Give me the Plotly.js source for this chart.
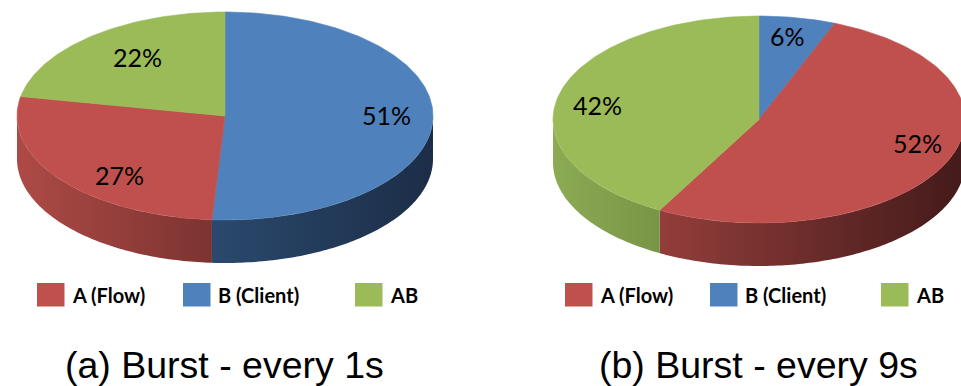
<!DOCTYPE html>
<html>
<head>
<meta charset="utf-8">
<script src="https://cdn.plot.ly/plotly-3.0.1.min.js"></script>
<style>
  html, body { margin: 0; padding: 0; background: #ffffff; }
  #chart { width: 961px; height: 386px; }
</style>
</head>
<body>
<div id="chart"></div>
<script>
// Share of bursts handled by each path, for two burst intervals (percent)
const categories = ['A (Flow)', 'B (Client)', 'AB'];
const burstEvery1s = [27, 51, 22];
const burstEvery9s = [52, 6, 42];
const captions = ['(a) Burst - every 1s', '(b) Burst - every 9s'];

// Styling per category (A, B, AB)
const topColors = ['#C0504D', '#4F81BD', '#9BBB59'];
const sideLight = ['#AE4A46', '#37628F', '#8CAB54'];
const sideDark  = ['#431A1A', '#1C2D47', '#40541F'];
// slices are laid out clockwise from 12 o'clock in this order
const sliceOrder = [1, 0, 2];

// Geometry of each tilted pie (drawing units = pixels of the page)
const pies = [
  { values: burstEvery1s, caption: captions[0], cx: 225, cy: 116, rx: 208, ry: 104, depth: 43,
    nudge: [[13, 13], [12, -3], [8, -1]],
    legendBox: [37, 183, 355], legendY: 283 },
  { values: burstEvery9s, caption: captions[1], cx: 759, cy: 119.5, rx: 206, ry: 103.5, depth: 43,
    nudge: [[24, -8], [1, -10], [-18, 4]],
    legendBox: [565, 710, 881], legendY: 283 }
];

const LABEL_R = 0.72;

function pt(p, deg, dy) {
  const t = deg * Math.PI / 180;
  return [p.cx + p.rx * Math.sin(t), p.cy - p.ry * Math.cos(t) + (dy || 0)];
}

function arc(p, a0, a1, dy) {
  const pts = [];
  const n = Math.max(2, Math.ceil(Math.abs(a1 - a0)));
  for (let i = 0; i <= n; i++) pts.push(pt(p, a0 + (a1 - a0) * i / n, dy));
  return pts;
}

const sideTraces = [];
const topTraces = [];
const annotations = [];
const shapes = [];

pies.forEach(p => {
  const total = p.values.reduce((a, b) => a + b, 0);
  let start = 0;
  sliceOrder.forEach(c => {
    const sweep = p.values[c] / total * 360;
    const end = start + sweep;

    // visible front wall of the slice (between 3 and 9 o'clock)
    const a0 = Math.max(start, 90), a1 = Math.min(end, 270);
    if (a1 > a0) {
      const pts = arc(p, a0, a1, 0).concat(arc(p, a1, a0, p.depth));
      pts.push(pts[0]);
      sideTraces.push({
        type: 'scatter', mode: 'none', hoverinfo: 'skip',
        x: pts.map(q => q[0]), y: pts.map(q => q[1]),
        fill: 'toself',
        fillgradient: {
          type: 'horizontal',
          start: p.cx - p.rx, stop: p.cx + p.rx,
          colorscale: [[0, sideLight[c]], [1, sideDark[c]]]
        }
      });
    }

    // top face of the slice
    const face = [[p.cx, p.cy]].concat(arc(p, start, end, 0));
    face.push([p.cx, p.cy]);
    topTraces.push({
      type: 'scatter', mode: 'lines', hoverinfo: 'skip',
      x: face.map(q => q[0]), y: face.map(q => q[1]),
      fill: 'toself', fillcolor: topColors[c],
      line: { color: topColors[c], width: 0.6 }
    });

    // percentage label
    const mid = pt({ cx: p.cx, cy: p.cy, rx: p.rx * LABEL_R, ry: p.ry * LABEL_R }, start + sweep / 2, 0);
    annotations.push({
      x: mid[0] + p.nudge[c][0], y: mid[1] + p.nudge[c][1],
      xref: 'x', yref: 'y', showarrow: false,
      text: p.values[c] + '%',
      font: { family: 'Lato, "Open Sans", sans-serif', size: 25, color: '#000000' }
    });

    start = end;
  });

  // legend keys
  categories.forEach((name, c) => {
    const x0 = p.legendBox[c];
    shapes.push({
      type: 'rect', xref: 'x', yref: 'y', layer: 'above',
      x0: x0, x1: x0 + 27.5, y0: p.legendY, y1: p.legendY + 23.5,
      fillcolor: topColors[c], line: { width: 0 }
    });
    annotations.push({
      x: x0 + 33, y: p.legendY + 12, xref: 'x', yref: 'y',
      xanchor: 'left', yanchor: 'middle', showarrow: false,
      text: '<b>' + name + '</b>',
      font: { family: 'Lato, "Open Sans", sans-serif', size: 20, color: '#000000' }
    });
  });

  // caption under each pie
  annotations.push({
    x: p.cx - 1, y: 365, xref: 'x', yref: 'y',
    xanchor: 'center', yanchor: 'middle', showarrow: false,
    text: p.caption,
    font: { family: '"Liberation Sans", Arial, sans-serif', size: 37.5, color: '#000000' }
  });
});

const layout = {
  width: 961, height: 386,
  margin: { l: 0, r: 0, t: 0, b: 0 },
  paper_bgcolor: '#ffffff', plot_bgcolor: '#ffffff',
  showlegend: false,
  xaxis: { range: [0, 961], visible: false, fixedrange: true },
  yaxis: { range: [386, 0], visible: false, fixedrange: true },
  annotations: annotations,
  shapes: shapes
};

Plotly.newPlot('chart', sideTraces.concat(topTraces), layout, { displayModeBar: false, staticPlot: true });
</script>
</body>
</html>
